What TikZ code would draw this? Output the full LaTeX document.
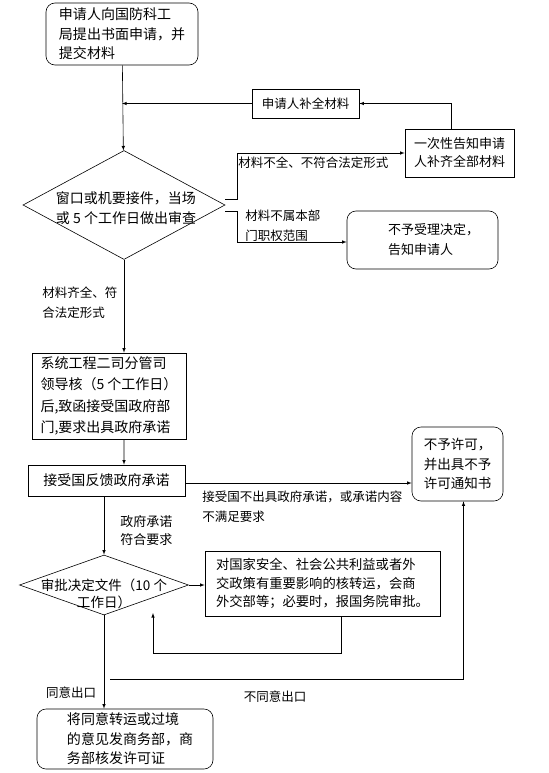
\documentclass[tikz,border=0pt]{standalone}
\usepackage{fontspec}
\setmainfont{Noto Sans CJK SC}
\usetikzlibrary{shapes.geometric}
\begin{document}
\begin{tikzpicture}[x=1bp,y=-1bp,>=latex,line width=0.6bp]
            \tikzstyle{box}=[draw,align=left,inner sep=0,font=\fontsize{14bp}{19.5bp}\selectfont]
            \tikzstyle{round box}=[box,rounded corners=9bp]
            \tikzstyle{choice}=[draw,diamond,inner sep=0]
            \tikzstyle{choice text}=[align=left,inner sep=0,font=\fontsize{14bp}{20bp}\selectfont]
            \tikzstyle{note}=[align=left,inner sep=0,font=\fontsize{12.5bp}{20bp}\selectfont]

            \useasboundingbox (0,0) rectangle (549,773);

            \node(apply)[round box,minimum width=152bp,minimum height=62bp] at (122,34)
            {申请人向国防科工\\局提出书面申请，并\\提交材料};
            \node(supply)[box,font=\fontsize{12.5bp}{18bp}\selectfont,minimum width=107bp,minimum height=29bp] at (305.5,103.5)
            {申请人补全材料};
            \node(tell)[box,font=\fontsize{13bp}{18bp}\selectfont,minimum width=109bp,minimum height=48bp] at (459.5,153)
            {一次性告知申请\\人补齐全部材料};
            \node(check)[choice,minimum width=202bp,minimum height=109bp,
            label={[choice text,xshift=2bp,yshift=-3bp]center:{窗口或机要接件，当场\\或 5 个工作日做出审查}}] at (124,205) {};
            \node(refuse)[round box,font=\fontsize{13bp}{20bp}\selectfont,minimum width=151bp,minimum height=58bp] at (422.5,240)
            {\hspace*{22bp}不予受理决定，\\\hspace*{22bp}告知申请人};
            \node(system)[box,font=\fontsize{14bp}{21.5bp}\selectfont,minimum width=154bp,minimum height=86bp] at (109,396)
            {系统工程二司分管司\\领导核（5 个工作日）\\后,致函接受国政府部\\门,要求出具政府承诺};
            \node(reply)[box,minimum width=157bp,minimum height=31bp] at (106.5,480.5)
            {接受国反馈政府承诺};
            \node(deny)[round box,font=\fontsize{13.5bp}{19.5bp}\selectfont,minimum width=91bp,minimum height=74bp] at (457.5,464)
            {不予许可，\\并出具不予\\许可通知书};
            \node(approve)[choice,minimum width=169bp,minimum height=60bp,
            label={[choice text,align=center,font=\fontsize{13.5bp}{17bp}\selectfont,yshift=-8.5bp]center:{审批决定文件（10 个\\工作日）}}] at (104,585) {};
            \node(state)[box,font=\fontsize{13.3bp}{18.5bp}\selectfont,minimum width=235bp,minimum height=65bp] at (322.5,583.5)
            {对国家安全、社会公共利益或者外\\交政策有重要影响的核转运，会商\\外交部等；必要时，报国务院审批。};
            \node(licence)[round box,minimum width=176bp,minimum height=60bp] at (125,739)
            {\hspace*{10bp}将同意转运或过境\\\hspace*{10bp}的意见发商务部，商\\\hspace*{10bp}务部核发许可证};

            \node(lack)[note,anchor=west] at (238,163) {材料不全、不符合法定形式};
            \node(outside)[note,anchor=west] at (245,226) {材料不属本部\\门职权范围};
            \node(complete)[note,anchor=west] at (42,303) {材料齐全、符\\合法定形式};
            \node(noreply)[note,anchor=west] at (202,507) {接受国不出具政府承诺，或承诺内容\\不满足要求};
            \node(fit)[note,anchor=west,font=\fontsize{13bp}{18bp}\selectfont] at (120,531) {政府承诺\\符合要求};
            \node(agree)[note] at (71,693) {同意出口};
            \node(disagree)[note] at (275,697) {不同意出口};

            \coordinate(back) at (153,613);
            \coordinate(bend) at (153,653);
            \coordinate(nogo) at (110,679);

            \draw[->] (apply) -- (check);
            \draw[->] (supply) -- (supply -| apply);
            \draw[->] ([xshift=-8bp]tell.north) |- (supply);
            \draw[->] ([yshift=6bp]check.east) -- ++(12,0) |- (tell);
            \draw[->] ([yshift=-6bp]check.east) -- ++(12,0) |- ([yshift=-2bp]refuse.west);
            \draw[->] (check.south) -- (check.south |- system.north);
            \draw[->] ([xshift=15bp]system.south) -- ([xshift=17.5bp]reply.north);
            \draw[->] ([yshift=-2.5bp]reply.east) -- ([yshift=-2.5bp]reply.east -| deny.west);
            \draw[->] (reply.south -| approve.north) -- (approve.north);
            \draw[->] (approve.east) -- (approve.east -| state.west);
            \draw[->] ([xshift=18.5bp]state.south) |- (bend) -- (back);
            \draw[->] (approve.south) -- (approve.south |- licence.north);
            \draw[->] (nogo) -| ([xshift=6bp]deny.south);
        \end{tikzpicture}
\end{document}
